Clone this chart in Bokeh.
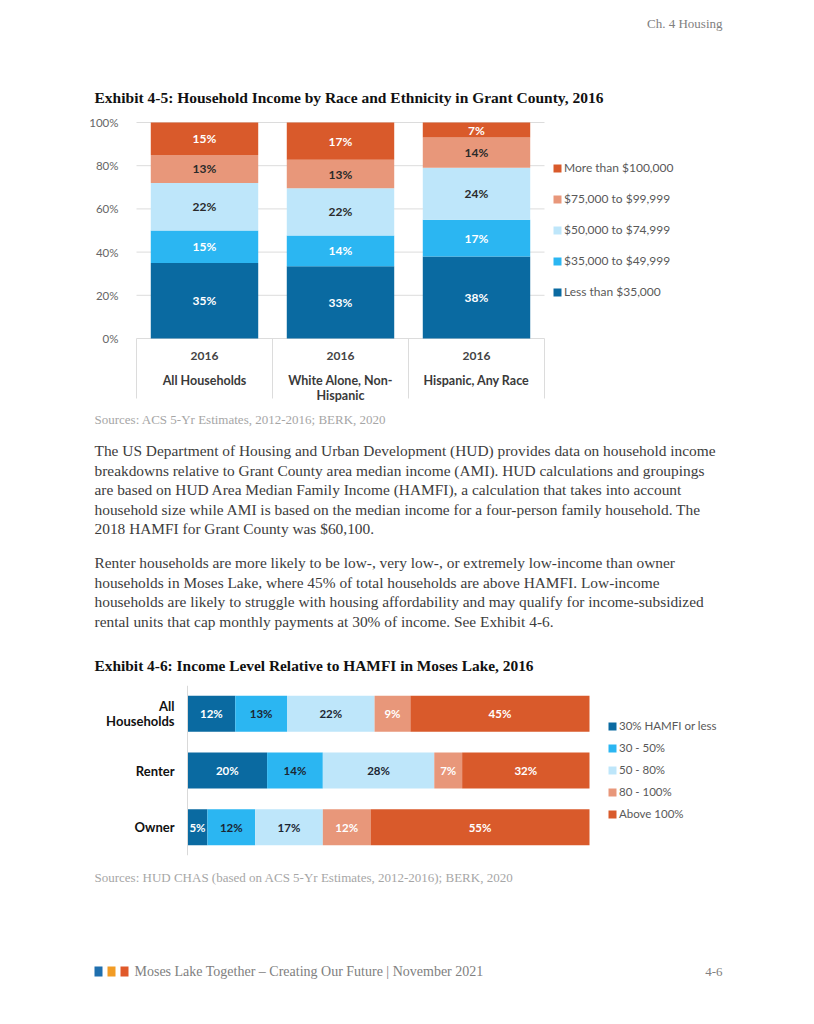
from bokeh.plotting import figure
from bokeh.layouts import column
from bokeh.models import ColumnDataSource, Range1d, FixedTicker, Legend, LegendItem
from bokeh.core.properties import value
from bokeh.embed import file_html
from bokeh.resources import INLINE

# ---------------- data ----------------
# Exhibit 4-5 (segment shares in %, labels show rounded values)
groups1 = ["All Households", "White Alone, Non-Hispanic", "Hispanic, Any Race"]
group_labels1 = ["All Households", "White Alone, Non-\nHispanic", "Hispanic, Any Race"]
year1 = ["2016", "2016", "2016"]
series1 = ["Less than $35,000", "$35,000 to $49,999", "$50,000 to $74,999",
           "$75,000 to $99,999", "More than $100,000"]
lt35 = [35, 33.4, 38]
inc35_50 = [15, 14.3, 17]
inc50_75 = [22, 21.9, 24]
inc75_100 = [13, 13.1, 14]
gt100 = [15, 17.3, 7]
y_ticks1 = [0, 20, 40, 60, 80, 100]
y_tick_labels1 = ["0%", "20%", "40%", "60%", "80%", "100%"]

# Exhibit 4-6
cats2 = ["All Households", "Renter", "Owner"]
cat_labels2 = ["All\nHouseholds", "Renter", "Owner"]
series2 = ["30% HAMFI or less", "30 - 50%", "50 - 80%", "80 - 100%", "Above 100%"]
h30 = [12, 20, 5]
h30_50 = [13, 14, 12]
h50_80 = [22, 28, 17]
h80_100 = [9, 7, 12]
h100 = [45, 32, 55]

# ---------------- text ----------------
header_text = "Ch. 4 Housing"
title1 = "Exhibit 4-5: Household Income by Race and Ethnicity in Grant County, 2016"
source1_text = "Sources: ACS 5-Yr Estimates, 2012-2016; BERK, 2020"
para1 = ["The US Department of Housing and Urban Development (HUD) provides data on household income",
         "breakdowns relative to Grant County area median income (AMI). HUD calculations and groupings",
         "are based on HUD Area Median Family Income (HAMFI), a calculation that takes into account",
         "household size while AMI is based on the median income for a four-person family household. The",
         "2018 HAMFI for Grant County was $60,100."]
para2 = ["Renter households are more likely to be low-, very low-, or extremely low-income than owner",
         "households in Moses Lake, where 45% of total households are above HAMFI. Low-income",
         "households are likely to struggle with housing affordability and may qualify for income-subsidized",
         "rental units that cap monthly payments at 30% of income. See Exhibit 4-6."]
title2 = "Exhibit 4-6: Income Level Relative to HAMFI in Moses Lake, 2016"
source2_text = "Sources: HUD CHAS (based on ACS 5-Yr Estimates, 2012-2016); BERK, 2020"
footer_text = "Moses Lake Together \u2013 Creating Our Future | November 2021"
page_no = "4-6"

COLORS = ["#0a6aa1", "#2bb6f2", "#bee6fa", "#e8977a", "#d95a2b"]
FOOT_COLORS = ["#1f6fae", "#f29c25", "#e0592a"]
SERIF = "Liberation Serif"
SANS = "Lato"

# every figure shares the same side borders (column aligns frames)
FL, FR = 80, 730          # frame left / right in page pixels
W = 806
BL, BR = FL, W - FR


def base_fig(top, bottom, x_range, y_range, btop=0, bbot=0, yaxis=None):
    p = figure(width=W, height=bottom - top, x_range=x_range, y_range=y_range,
               x_axis_location=None, y_axis_location=yaxis, toolbar_location=None, title=None,
               output_backend="svg", min_border_left=BL, min_border_right=BR, min_border_top=btop,
               min_border_bottom=bbot, outline_line_color=None)
    p.grid.visible = False
    return p


def page_fig(top, bottom):
    return base_fig(top, bottom, Range1d(FL, FR), Range1d(bottom, top))


def put(p, x, y, txt, size, color, style="normal", align="left", font=SERIF):
    p.text(x=[x], y=[y], text=[txt], text_font=value(font), text_font_size=size,
           text_font_style=style, text_color=color, text_align=align, text_baseline="middle")


# ---------------- header ----------------
pa = page_fig(0, 112)
put(pa, 722, 23, header_text, "13px", "#808080", align="right")
put(pa, 94, 97, title1, "15.5px", "#111111", style="bold")

# ---------------- chart 1 ----------------
n1 = len(groups1)
ppx1 = 136.0                      # pixels per category
ppu1 = 2.16                       # pixels per percent
top1, bot1 = 112, 408
ftop1, fbot1 = 112, 408           # frame in page px; 0% at 338, 100% at 122
zero1 = 338
box_bottom = 398
y_end1 = (zero1 - ftop1) / ppu1
y_start1 = (zero1 - fbot1) / ppu1
py1 = lambda py: (zero1 - py) / ppu1
x_rng1 = Range1d((FL - 136) / ppx1, (FR - 136) / ppx1)
p1 = base_fig(top1, bot1, x_rng1, Range1d(y_start1, y_end1), btop=ftop1 - top1, bbot=bot1 - fbot1,
              yaxis="left")
xs1 = [i + 0.5 for i in range(n1)]
keys1 = ["lt35", "inc35_50", "inc50_75", "inc75_100", "gt100"]
vals1 = [lt35, inc35_50, inc50_75, inc75_100, gt100]
src1 = ColumnDataSource(dict(x=xs1, **{k: v for k, v in zip(keys1, vals1)}))

# gridlines limited to the bar area
p1.segment(x0=[0] * len(y_ticks1), y0=y_ticks1, x1=[n1] * len(y_ticks1), y1=y_ticks1,
           line_color="#dcdcdc", line_width=1)
bounds = list(range(n1 + 1))
p1.segment(x0=bounds, y0=[0] * len(bounds), x1=bounds, y1=[py1(box_bottom)] * len(bounds),
           line_color="#dcdcdc", line_width=1)

r1 = p1.vbar_stack(keys1, x="x", width=0.79, fill_color=COLORS, line_color=None, source=src1)

lab_colors1 = ["white", "white", "#2a2a2a", "#2a2a2a", "white"]
base = [0] * n1
for vals, col in zip(vals1, lab_colors1):
    ys = [b + v / 2.0 for b, v in zip(base, vals)]
    p1.text(x=xs1, y=ys, text=[f"{round(v)}%" for v in vals], text_font=value(SANS), text_font_size="12px",
            text_font_style="bold", text_color=col, text_align="center", text_baseline="middle")
    base = [b + v for b, v in zip(base, vals)]

ax1 = p1.yaxis[0]
ax1.fixed_location = 0
ax1.ticker = FixedTicker(ticks=y_ticks1)
ax1.major_label_overrides = dict(zip(y_ticks1, y_tick_labels1))
ax1.axis_line_color = None
ax1.major_tick_line_color = None
ax1.minor_tick_line_color = None
ax1.major_label_standoff = 12
ax1.major_label_text_font = SANS
ax1.major_label_text_font_size = "11.5px"
ax1.major_label_text_color = "#666666"

line1 = [g.split("\n")[0] for g in group_labels1]
line2 = [g.split("\n")[1] if "\n" in g else "" for g in group_labels1]
p1.text(x=xs1, y=[py1(355)] * n1, text=year1, text_font=value(SANS), text_font_size="12px",
        text_font_style="bold", text_color="#444444", text_align="center", text_baseline="middle")
p1.text(x=xs1, y=[py1(380)] * n1, text=line1, text_font=value(SANS), text_font_size="12.5px",
        text_font_style="bold", text_color="#3a3a3a", text_align="center", text_baseline="middle")
p1.text(x=xs1, y=[py1(395)] * n1, text=line2, text_font=value(SANS), text_font_size="12.5px",
        text_font_style="bold", text_color="#3a3a3a", text_align="center", text_baseline="middle")

leg1 = Legend(items=[LegendItem(label=series1[i], renderers=[r1[i]]) for i in reversed(range(5))],
              location=(552 - FL, fbot1 - 299), orientation="vertical", padding=0, margin=0, spacing=16,
              glyph_width=10, glyph_height=10, label_height=15, label_standoff=2,
              label_text_font=SANS, label_text_font_size="12px", label_text_color="#595959",
              border_line_color=None, background_fill_alpha=0)
p1.add_layout(leg1)

# ---------------- text block ----------------
pc = page_fig(408, 685)
put(pc, 94, 419, source1_text, "13px", "#a6a6a6")
for i, ln in enumerate(para1):
    put(pc, 94, 450 + i * 19.5, ln, "15.4px", "#3c3c3c")
for i, ln in enumerate(para2):
    put(pc, 94, 562 + i * 19.5, ln, "15.4px", "#3c3c3c")
put(pc, 94, 665, title2, "15.4px", "#111111", style="bold")

# ---------------- chart 2 ----------------
n2 = len(cats2)
top2, bot2 = 685, 865
ftop2, fbot2 = 685, 855
x0px2, x101px2 = 187, 589
k2 = (x101px2 - x0px2) / 101.0
x_rng2 = Range1d((FL - x0px2) / k2, (FR - x0px2) / k2)
p2 = base_fig(top2, bot2, x_rng2, Range1d(0, n2), btop=ftop2 - top2, bbot=bot2 - fbot2, yaxis="left")
ys2 = [n2 - i - 0.5 for i in range(n2)]
keys2 = ["h30", "h30_50", "h50_80", "h80_100", "h100"]
vals2 = [h30, h30_50, h50_80, h80_100, h100]
src2 = ColumnDataSource(dict(y=ys2, **{k: v for k, v in zip(keys2, vals2)}))
r2 = p2.hbar_stack(keys2, y="y", height=0.635, fill_color=COLORS, line_color=None, source=src2)
lab_colors2 = ["white", "#1c2633", "#1c2633", "white", "white"]
base = [0] * n2
for vals, col in zip(vals2, lab_colors2):
    xsl = [b + v / 2.0 for b, v in zip(base, vals)]
    p2.text(x=xsl, y=ys2, text=[f"{v}%" for v in vals], text_font=value(SANS), text_font_size="11.5px",
            text_font_style="bold", text_color=col, text_align="center", text_baseline="middle")
    base = [b + v for b, v in zip(base, vals)]

ax2 = p2.yaxis[0]
ax2.fixed_location = 0
ax2.ticker = FixedTicker(ticks=[])
ax2.axis_line_color = "#d9d9d9"
ax2.major_tick_line_color = None
ax2.minor_tick_line_color = None

# category labels (two-line where needed)
row_px = (fbot2 - ftop2) / n2
half_line = 7.5 / row_px
lx = -13 / k2
for lab, yc in zip(cat_labels2, ys2):
    parts = lab.split("\n")
    offs = [(len(parts) - 1) / 2.0 - j for j in range(len(parts))]
    p2.text(x=[lx] * len(parts), y=[yc + 2 * o * half_line for o in offs], text=parts,
            text_font=value(SANS), text_font_size="13px", text_font_style="bold",
            text_color="#111111", text_align="right", text_baseline="middle")

leg2 = Legend(items=[LegendItem(label=series2[i], renderers=[r2[i]]) for i in range(5)],
              location=(607 - FL, fbot2 - 821), orientation="vertical", padding=0, margin=0, spacing=7,
              glyph_width=10, glyph_height=10, label_height=15, label_standoff=2,
              label_text_font=SANS, label_text_font_size="11.5px", label_text_color="#595959",
              border_line_color=None, background_fill_alpha=0)
p2.add_layout(leg2)

# ---------------- footer ----------------
pe = page_fig(865, 1016)
put(pe, 94, 877, source2_text, "13px", "#a6a6a6")
pe.rect(x=[98, 111, 124], y=[971] * 3, width=8, height=10, fill_color=FOOT_COLORS, line_color=None)
put(pe, 134, 971, footer_text, "14px", "#808080")
put(pe, 722, 971, page_no, "13px", "#808080", align="right")

layout = column(pa, p1, pc, p2, pe)
open("out.html", "w").write(file_html(layout, INLINE))
